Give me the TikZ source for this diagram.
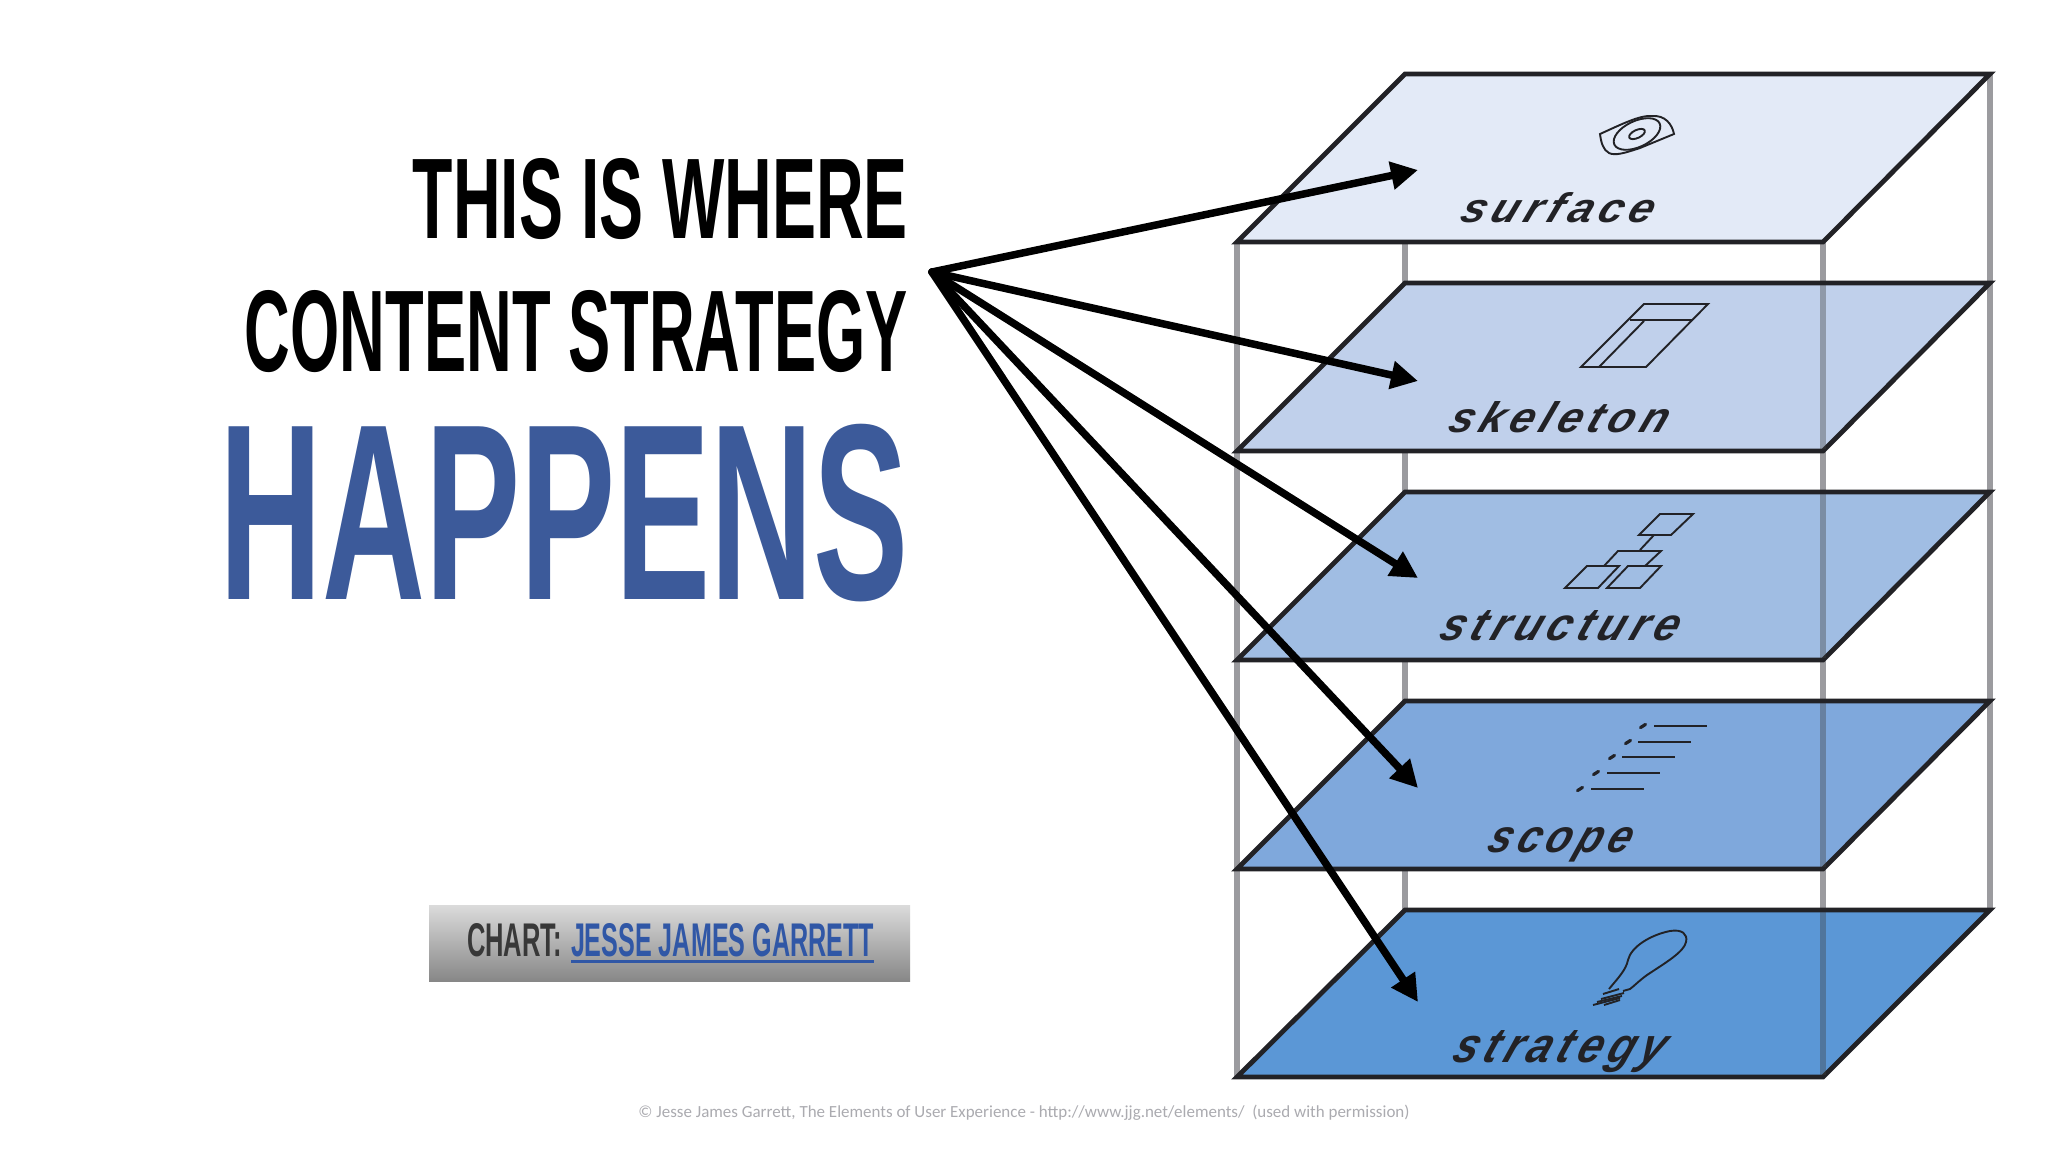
\documentclass[tikz,border=0pt]{standalone}
\usepackage{fontspec}
\usepackage{graphicx}
\usetikzlibrary{arrows.meta}
\setmainfont{Liberation Sans}
\newfontfamily\footfont{Carlito}
\newfontfamily\layerfont[LetterSpace=13]{Liberation Sans}
\definecolor{headblue}{HTML}{3C5A9A}
\definecolor{linkblue}{HTML}{3057A6}
\definecolor{edgedark}{HTML}{222226}
\definecolor{pillargray}{HTML}{9B9B9F}
\definecolor{footgray}{HTML}{ABABB0}
\definecolor{planeA}{HTML}{E3EAF7}
\definecolor{planeB}{HTML}{C0D0EB}
\definecolor{planeC}{HTML}{A0BDE3}
\definecolor{planeD}{HTML}{7FA8DC}
\definecolor{planeE}{HTML}{5B97D6}
\newcommand{\fitbox}[3]{\resizebox{#1pt}{#2pt}{#3}}
\tikzset{
  txt/.style={inner sep=0pt,outer sep=0pt},
  pillar/.style={draw=pillargray,line width=5.5pt},
  pillarover/.style={draw=black!75,line width=5.5pt,opacity=.38},
  planeshape/.style={draw=edgedark,line width=4.8pt,line join=miter},
  icon/.style={draw=edgedark,line width=1.9pt,line join=miter},
  layertxt/.style={txt,text=edgedark,anchor=north west,xslant=.38},
  pointer/.style={draw=black,line width=7.5pt,line cap=round,-{Triangle[length=27pt,width=27pt]}}
}
\newcommand{\plane}[3]{%
  \path[planeshape,fill=#3] (1405,#1) -- (1990,#1) -- (1823,#2) -- (1237,#2) -- cycle;}
\newcommand{\seen}[2]{\draw[pillarover] (1823,#1+2.4) -- (1823,#2-2.4);}
\begin{document}
\begin{tikzpicture}[x=1pt,y=-1pt]
\useasboundingbox[fill=white] (0,0) rectangle (2048,1152);

% pillars
\draw[pillar] (1237,242) -- (1237,1077);
\draw[pillar] (1405,242) -- (1405,910);
\draw[pillar] (1823,242) -- (1823,1077);
\draw[pillar] (1990,74) -- (1990,910);

% planes
\plane{74}{242}{planeA}
\plane{283}{451}{planeB}
\plane{492}{660}{planeC}
\plane{701}{869}{planeD}
\plane{910}{1077}{planeE}
\seen{283}{451}
\seen{492}{660}
\seen{701}{869}
\seen{910}{1077}

% surface icon
\draw[icon] (1600,134) .. controls (1622,124) and (1640,115) .. (1652,116)
  .. controls (1665,115) and (1672,124) .. (1674,134)
  -- (1640,148) .. controls (1625,153) and (1615,156) .. (1609,153)
  .. controls (1603,150) and (1601,142) .. (1600,134) -- cycle;
\draw[icon,rotate around={25:(1637,134)}] (1637,134) ellipse [x radius=25,y radius=13];
\draw[icon,rotate around={25:(1637,134)}] (1637,134) ellipse [x radius=8.5,y radius=4];

% skeleton icon
\draw[icon] (1644,304) -- (1708,304) -- (1646,367) -- (1581,367) -- cycle;
\draw[icon] (1630,320) -- (1692,320);
\draw[icon] (1644,321) -- (1599,367);

% structure icon
\draw[icon] (1660,514) -- (1693,514) -- (1671,535) -- (1639,535) -- cycle;
\draw[icon] (1654,535) -- (1640,550);
\draw[icon] (1604,566) -- (1618,551) -- (1661,551) -- (1645,566);
\draw[icon] (1587,566) -- (1619,566) -- (1598,588) -- (1565,588) -- cycle;
\draw[icon] (1628,566) -- (1661,566) -- (1640,588) -- (1607,588) -- cycle;

% scope icon
\foreach \ly/\lx/\dx in {726/1654/1643,742/1638/1628,757/1622/1612,773/1607/1596,789/1591/1580}{
  \draw[icon,line width=2.6pt] (\lx,\ly) -- ++(53,0);
  \draw[icon,line width=3.2pt,line cap=round] (\dx-2.5,\ly+1.6) -- (\dx+2.5,\ly-1.6);
}

% strategy icon
\draw[icon,line join=round] (1609,989) .. controls (1618,978) and (1626,970) .. (1628,960)
  .. controls (1631,947) and (1650,935) .. (1670,931)
  .. controls (1682,929) and (1688,934) .. (1686,942)
  .. controls (1684,952) and (1665,963) .. (1647,975)
  .. controls (1640,980) and (1634,986) .. (1630,989) -- (1623,991);
\draw[icon] (1603,994) -- (1619,989);
\draw[icon] (1601,999) -- (1624,993);
\draw[icon] (1597,1002) -- (1622,996);
\draw[icon] (1593,1005) -- (1620,998);
\draw[icon] (1604,1005) -- (1620,1000);

% layer names
\node[layertxt] (surf) at (1470,192) {\fitbox{192}{30}{\layerfont\itshape\bfseries surface}};
\node[layertxt] (skel) at (1458,401) {\fitbox{218}{31}{\layerfont\itshape\bfseries skeleton}};
\node[layertxt] (stru) at (1449,610) {\fitbox{237}{30}{\layerfont\itshape\bfseries structure}};
\node[layertxt] (scop) at (1495,827) {\fitbox{142}{25}{\layerfont\itshape\bfseries scope}};
\node[layertxt] (stra) at (1463,1030) {\fitbox{210}{32}{\layerfont\itshape\bfseries strategy}};

% headline
\node[txt,anchor=north east] (h1) at (908,158) {\fitbox{495}{80}{\bfseries THIS IS WHERE}};
\node[txt,anchor=north east] (h2) at (908,290) {\fitbox{663}{81}{\bfseries CONTENT STRATEGY}};
\node[txt,anchor=north east,text=headblue] (h3) at (909,424) {\fitbox{689}{175}{\bfseries HAPPENS}};

% arrows
\coordinate (from) at (932,272);
\coordinate (tipA) at (1418,170);
\coordinate (tipB) at (1418,381);
\coordinate (tipC) at (1418,578);
\coordinate (tipD) at (1418,788);
\coordinate (tipE) at (1418,1002);
\draw[pointer] (from) -- (tipA);
\draw[pointer] (from) -- (tipB);
\draw[pointer] (from) -- (tipC);
\draw[pointer] (from) -- (tipD);
\draw[pointer] (from) -- (tipE);

% credit bar
\shade[top color=black!14,middle color=black!21,bottom color=black!47] (429,905) rectangle (910,981);
\node[txt,anchor=north west,text=black!78] (chart) at (467,923) {\fitbox{95}{33}{\bfseries CHART:}};
\node[txt,anchor=north west,text=linkblue] (jesse) at (571,923) {\fitbox{303}{33}{\bfseries JESSE JAMES GARRETT}};
\draw[linkblue,line width=2.6pt] (jesse.south west) ++(0,5) -- ++(303,0);

% footer
\node[txt,anchor=center,text=footgray] (foot) at (1024,1113) {\resizebox{771pt}{!}{\footfont © Jesse James Garrett, The Elements of User Experience - http://www.jjg.net/elements/ \ (used with permission)}};
\end{tikzpicture}
\end{document}
